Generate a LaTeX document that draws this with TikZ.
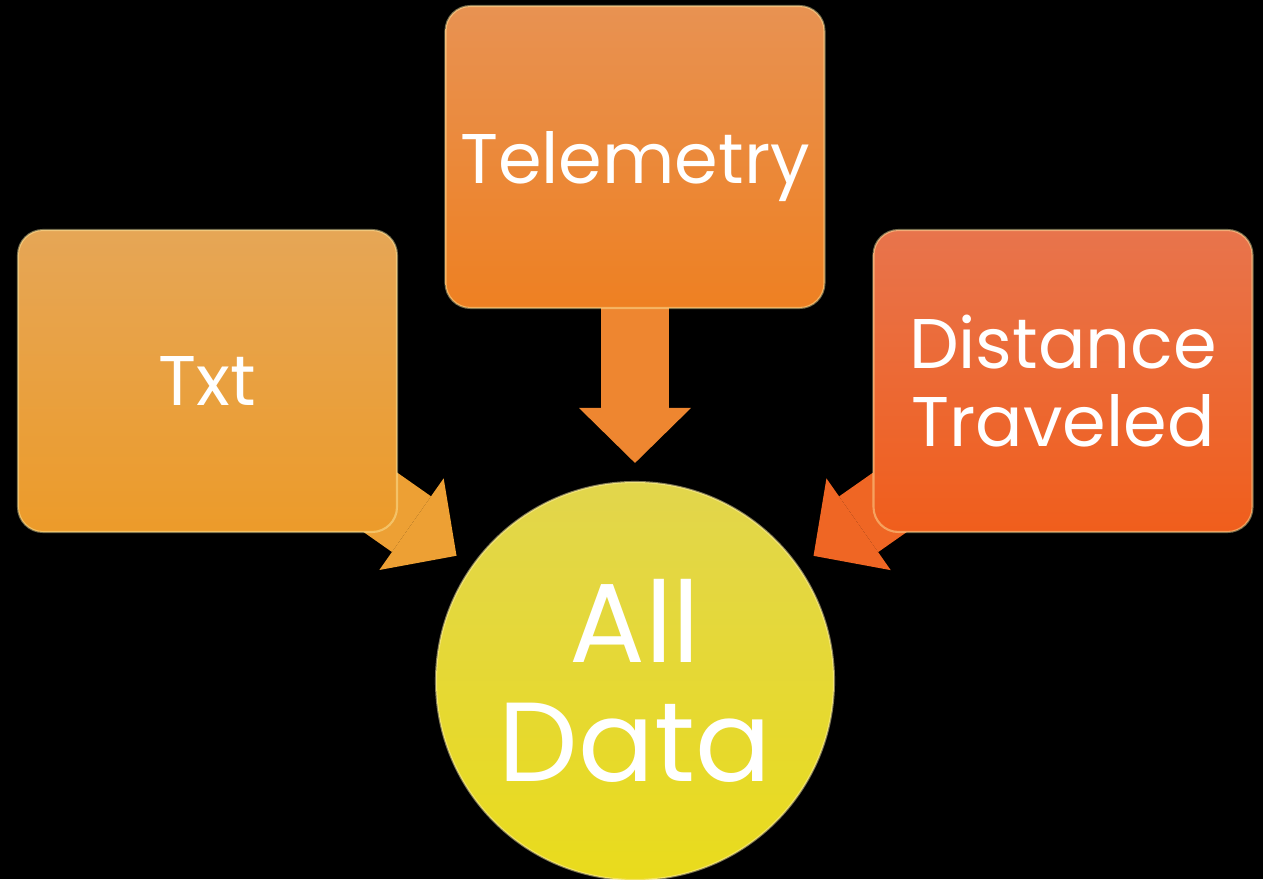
\documentclass[tikz,border=0pt]{standalone}
\usepackage{fontspec}
\setmainfont{Poppins}
\usetikzlibrary{arrows.meta}

% fills, light at the top and darker at the foot
\definecolor{txtTop}{RGB}{230,166,86}
\definecolor{txtBot}{RGB}{236,155,42}
\definecolor{telTop}{RGB}{232,146,82}
\definecolor{telBot}{RGB}{238,128,34}
\definecolor{disTop}{RGB}{232,116,76}
\definecolor{disBot}{RGB}{240,94,28}
\definecolor{hubTop}{RGB}{226,214,76}
\definecolor{hubBot}{RGB}{233,219,28}
\definecolor{txtArr}{RGB}{237,160,52}
\definecolor{telArr}{RGB}{238,134,48}
\definecolor{disArr}{RGB}{239,102,36}
\definecolor{rim}{RGB}{255,240,170}

\pgfdeclarelayer{back}
\pgfsetlayers{back,main}

\begin{document}
\begin{tikzpicture}[
    box/.style={
        rectangle, rounded corners=0.5cm,
        minimum width=7.58cm, minimum height=6.04cm,
        inner sep=0pt, align=center, text=white,
        draw=rim, draw opacity=0.45, line width=1.2pt,
        font=\fontsize{40}{44}\selectfont
    },
    hub/.style={
        circle, minimum size=7.96cm, inner sep=0pt,
        align=center, text=white,
        top color=hubTop, bottom color=hubBot,
        draw=rim, draw opacity=0.5, line width=1.2pt,
        font=\fontsize{64}{68}\selectfont
    },
    feed/.style={
        line width=1.36cm, shorten >=0.36cm,
        -{Triangle[length=1.1cm, width=2.24cm, line width=0pt]}
    }
]

\useasboundingbox (0,0) rectangle (25.26,-17.58);

\node[box, top color=txtTop, bottom color=txtBot] (txt) at (4.15,-7.62) {Txt};
\node[box, top color=telTop, bottom color=telBot, text depth=0pt] (telemetry) at (12.7,-3.14) {Telemetry};
\node[box, top color=disTop, bottom color=disBot] (distance) at (21.26,-7.62) {Distance\\Traveled};

\node[hub] (alldata) at (12.7,-13.62) {All\\Data};

% block arrows run under the boxes, from each centre to the circle
\begin{pgfonlayer}{back}
    \fill[black] (0,0) rectangle (25.26,-17.58);
    \draw[feed, draw=txtArr, fill=txtArr] (txt.center) -- (alldata);
    \draw[feed, draw=telArr, fill=telArr] (telemetry.center) -- (alldata);
    \draw[feed, draw=disArr, fill=disArr] (distance.center) -- (alldata);
\end{pgfonlayer}

\end{tikzpicture}
\end{document}
